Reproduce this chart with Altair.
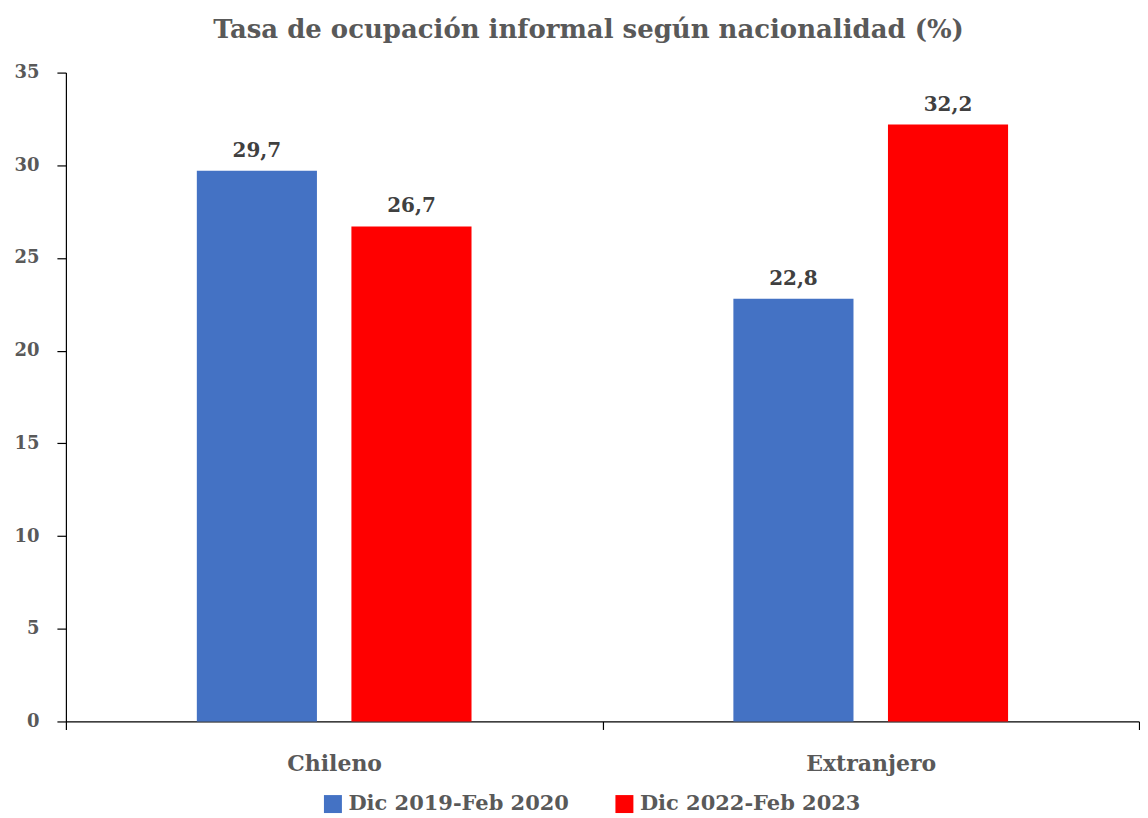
import altair as alt
import pandas as pd

categories = ["Chileno", "Chileno", "Extranjero", "Extranjero"]
periods = ["Dic 2019-Feb 2020", "Dic 2022-Feb 2023", "Dic 2019-Feb 2020", "Dic 2022-Feb 2023"]
values = [29.7, 26.7, 22.8, 32.2]

period_order = ["Dic 2019-Feb 2020", "Dic 2022-Feb 2023"]
colors = ["#4472C4", "#FF0000"]

df = pd.DataFrame({"cat": categories, "period": periods, "value": values})

FONT = "DejaVu Serif"
GRAY = "#595959"

base = alt.Chart(df).encode(
    x=alt.X("cat:N", title=None, sort=["Chileno", "Extranjero"],
            scale=alt.Scale(paddingInner=0, paddingOuter=0),
            axis=alt.Axis(labelAngle=0, labelFont=FONT, labelFontSize=22, labelFontWeight="bold",
                          labelColor=GRAY, labelPadding=24, tickBand="extent", tickSize=8,
                          tickColor="black", domainColor="black", domainWidth=1.2, tickWidth=1.2)),
    xOffset=alt.XOffset("period:N", sort=period_order,
                        scale=alt.Scale(paddingInner=0.223, paddingOuter=0.847)),
)

bars = base.mark_bar().encode(
    y=alt.Y("value:Q", title=None,
            scale=alt.Scale(domain=[0, 35]),
            axis=alt.Axis(values=[0, 5, 10, 15, 20, 25, 30, 35], grid=False, labelFont=FONT,
                          labelFontSize=18, labelFontWeight="bold", labelColor=GRAY,
                          labelPadding=18, tickSize=9, tickColor="black", domainColor="black",
                          domainWidth=1.2, tickWidth=1.2)),
    color=alt.Color("period:N", sort=period_order,
                    scale=alt.Scale(domain=period_order, range=colors),
                    legend=alt.Legend(title=None, orient="none", direction="horizontal",
                                      legendX=257, legendY=722, symbolType="square",
                                      symbolSize=324, symbolStrokeWidth=0, labelFont=FONT,
                                      labelFontSize=21, labelFontWeight="bold", labelColor=GRAY,
                                      labelOffset=5, columnPadding=44, symbolOpacity=1,
                                      labelLimit=0)),
)

labels = base.mark_text(font=FONT, fontSize=20, fontWeight="bold", color="#404040",
                        baseline="alphabetic", dy=-14).encode(
    y=alt.Y("value:Q"),
    text=alt.Text("label:N"),
).transform_calculate(label="replace(format(datum.value, '.1f'), '.', ',')")

chart = alt.layer(bars, labels).properties(
    width=1075, height=650,
    padding={"left": 5, "top": 8, "right": 0, "bottom": 0},
    title=alt.TitleParams("Tasa de ocupación informal según nacionalidad (%)", font=FONT,
                          fontSize=26, fontWeight="bold", color=GRAY, anchor="middle",
                          frame="group", dx=-14, offset=21),
).configure_view(stroke=None)

chart.save("out.html", embed_options={"renderer": "svg", "actions": False})
